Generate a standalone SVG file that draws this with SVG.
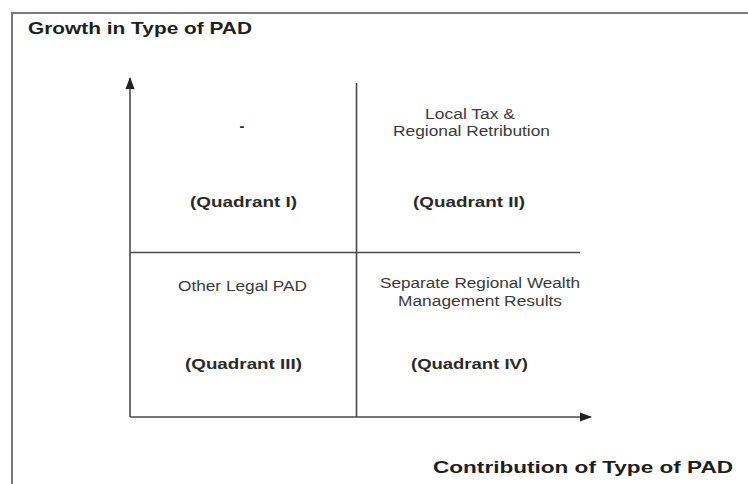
<svg xmlns="http://www.w3.org/2000/svg" width="748" height="484" viewBox="0 0 748 484">
<style>
.frame{fill:none;stroke:#7a7a7a;stroke-width:2}
.ax{fill:none;stroke:#4a4a4a;stroke-width:1.6}
.t{font-family:"Liberation Sans",Arial,sans-serif;font-size:14px;fill:#3a3a3a}
.b{font-family:"Liberation Sans",Arial,sans-serif;font-size:14.5px;font-weight:bold;fill:#2a2a2a}
.h{font-family:"Liberation Sans",Arial,sans-serif;font-size:16.5px;font-weight:bold;fill:#1e1e1e}
</style>
<defs>
<marker id="arr" markerWidth="12" markerHeight="12" refX="11" refY="6" orient="auto" markerUnits="userSpaceOnUse">
<path d="M0,1.5 L12,6 L0,10.5 Z" fill="#222"/>
</marker>
</defs>
<rect width="748" height="484" fill="#fff"/>
<path class="frame" d="M12,484 V13 H748"/>
<g id="title-y"><text class="h" x="28" y="34" textLength="224" lengthAdjust="spacingAndGlyphs">Growth in Type of PAD</text></g>
<g id="title-x"><text class="h" x="433" y="473" textLength="300" lengthAdjust="spacingAndGlyphs">Contribution of Type of PAD</text></g>
<g id="connectors">
<line class="ax" x1="130" y1="417" x2="130" y2="78" marker-end="url(#arr)"/>
<line class="ax" x1="130" y1="417" x2="591" y2="417" marker-end="url(#arr)"/>
<line class="ax" x1="356.5" y1="83" x2="356.5" y2="417"/>
<line class="ax" x1="130" y1="252.5" x2="580" y2="252.5"/>
</g>
<g id="q1">
<text class="b" x="242" y="131" text-anchor="middle">-</text>
<text class="b" x="190" y="207" textLength="107" lengthAdjust="spacingAndGlyphs">(Quadrant I)</text>
</g>
<g id="q2">
<text class="t" x="425" y="119" textLength="90" lengthAdjust="spacingAndGlyphs">Local Tax &amp;</text>
<text class="t" x="393" y="136" textLength="157" lengthAdjust="spacingAndGlyphs">Regional Retribution</text>
<text class="b" x="413" y="207" textLength="112" lengthAdjust="spacingAndGlyphs">(Quadrant II)</text>
</g>
<g id="q3">
<text class="t" x="178" y="291" textLength="129" lengthAdjust="spacingAndGlyphs">Other Legal PAD</text>
<text class="b" x="185" y="369" textLength="117" lengthAdjust="spacingAndGlyphs">(Quadrant III)</text>
</g>
<g id="q4">
<text class="t" x="380" y="288" textLength="200" lengthAdjust="spacingAndGlyphs">Separate Regional Wealth</text>
<text class="t" x="398" y="306" textLength="164" lengthAdjust="spacingAndGlyphs">Management Results</text>
<text class="b" x="411" y="369" textLength="117" lengthAdjust="spacingAndGlyphs">(Quadrant IV)</text>
</g>
</svg>
